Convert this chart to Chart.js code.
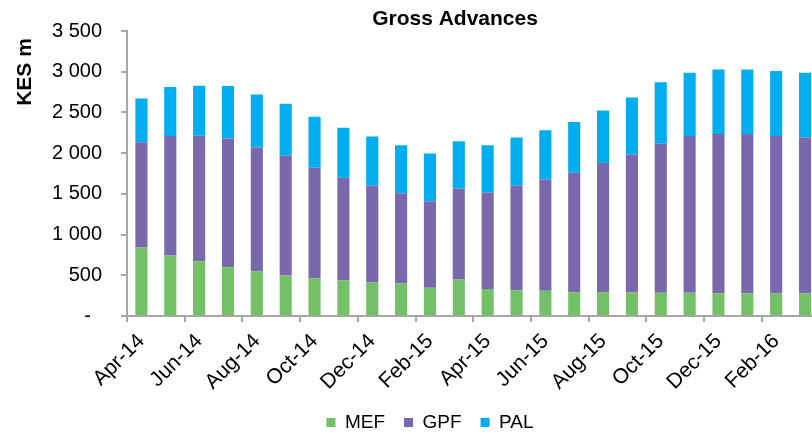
<!DOCTYPE html>
<html>
<head>
<meta charset="utf-8">
<script src="https://cdn.jsdelivr.net/npm/chart.js@4"></script>
<style>
  body { margin: 0; overflow: hidden; background: #fff; }
  #wrap { width: 812px; height: 434px; overflow: hidden; }
</style>
</head>
<body>
<div id="wrap"><canvas id="chart" width="830" height="434"></canvas></div>
<script>
const months = ['Apr-14', 'May-14', 'Jun-14', 'Jul-14', 'Aug-14', 'Sep-14', 'Oct-14', 'Nov-14',
  'Dec-14', 'Jan-15', 'Feb-15', 'Mar-15', 'Apr-15', 'May-15', 'Jun-15', 'Jul-15',
  'Aug-15', 'Sep-15', 'Oct-15', 'Nov-15', 'Dec-15', 'Jan-16', 'Feb-16', 'Mar-16'];
const mef = [841, 744, 671, 598, 549, 496, 463, 439, 415, 398, 346, 447,
  333, 317, 309, 293, 289, 289, 285, 285, 280, 276, 276, 276];
const gpf = [1293, 1467, 1544, 1581, 1520, 1471, 1358, 1260, 1186, 1110, 1064, 1118,
  1183, 1284, 1366, 1467, 1589, 1691, 1829, 1926, 1956, 1960, 1935, 1915];
const pal = [537, 602, 614, 646, 651, 639, 626, 614, 602, 590, 586, 581,
  582, 590, 605, 622, 646, 703, 756, 777, 792, 792, 797, 797];
const yTicks = [0, 500, 1000, 1500, 2000, 2500, 3000, 3500];

const FONT = "'Liberation Sans', Arial, sans-serif";
const AXIS = '#a6a6a6';

// chart title and y axis title, placed like the original
const titles = {
  id: 'titles',
  afterDraw(chart) {
    const ctx = chart.ctx;
    ctx.save();
    ctx.fillStyle = '#000';
    ctx.font = 'bold 21px ' + FONT;
    ctx.textAlign = 'center';
    ctx.textBaseline = 'middle';
    ctx.fillText('Gross Advances', 455, 19);
    ctx.translate(25, 72);
    ctx.rotate(-Math.PI / 2);
    ctx.fillText('KES m', 0, 0);
    ctx.restore();
  }
};

new Chart(document.getElementById('chart'), {
  type: 'bar',
  data: {
    labels: months,
    datasets: [
      { label: 'MEF', data: mef, backgroundColor: '#73c066' },
      { label: 'GPF', data: gpf, backgroundColor: '#7a68ad' },
      { label: 'PAL', data: pal, backgroundColor: '#00aeef' }
    ]
  },
  options: {
    responsive: false,
    animation: false,
    categoryPercentage: 1,
    barPercentage: 0.42,
    layout: { padding: { left: 37, right: 7, top: 29, bottom: -8 } },
    plugins: {
      title: { display: false },
      tooltip: { enabled: false },
      legend: {
        position: 'bottom',
        labels: {
          boxWidth: 9,
          boxHeight: 9,
          padding: 19,
          color: '#000',
          font: { family: FONT, size: 19 }
        }
      }
    },
    scales: {
      x: {
        stacked: true,
        afterFit: s => { s.height = 78; },
        border: { display: true, color: AXIS, width: 2 },
        grid: {
          offset: true,
          drawOnChartArea: false,
          tickLength: 6,
          lineWidth: 2,
          color: c => (c.index % 2 === 0 ? AXIS : 'rgba(0,0,0,0)')
        },
        ticks: {
          autoSkip: false,
          minRotation: 45,
          maxRotation: 45,
          padding: 7,
          color: '#000',
          font: { family: FONT, size: 21 },
          callback: (v, i) => (i % 2 === 0 ? months[i] : '')
        }
      },
      y: {
        stacked: true,
        min: 0,
        max: 3500,
        afterFit: s => { s.width = 90; },
        afterBuildTicks: s => { s.ticks = yTicks.map(v => ({ value: v })); },
        border: { display: true, color: AXIS, width: 2 },
        grid: { drawOnChartArea: false, tickLength: 6, lineWidth: 2, color: AXIS },
        ticks: {
          padding: 19,
          color: '#000',
          font: { family: FONT, size: 20 },
          callback: v => (v === 0 ? '-\u00a0\u00a0' : String(v).replace(/\B(?=(\d{3})+$)/g, ' '))
        }
      }
    }
  },
  plugins: [titles]
});
</script>
</body>
</html>
